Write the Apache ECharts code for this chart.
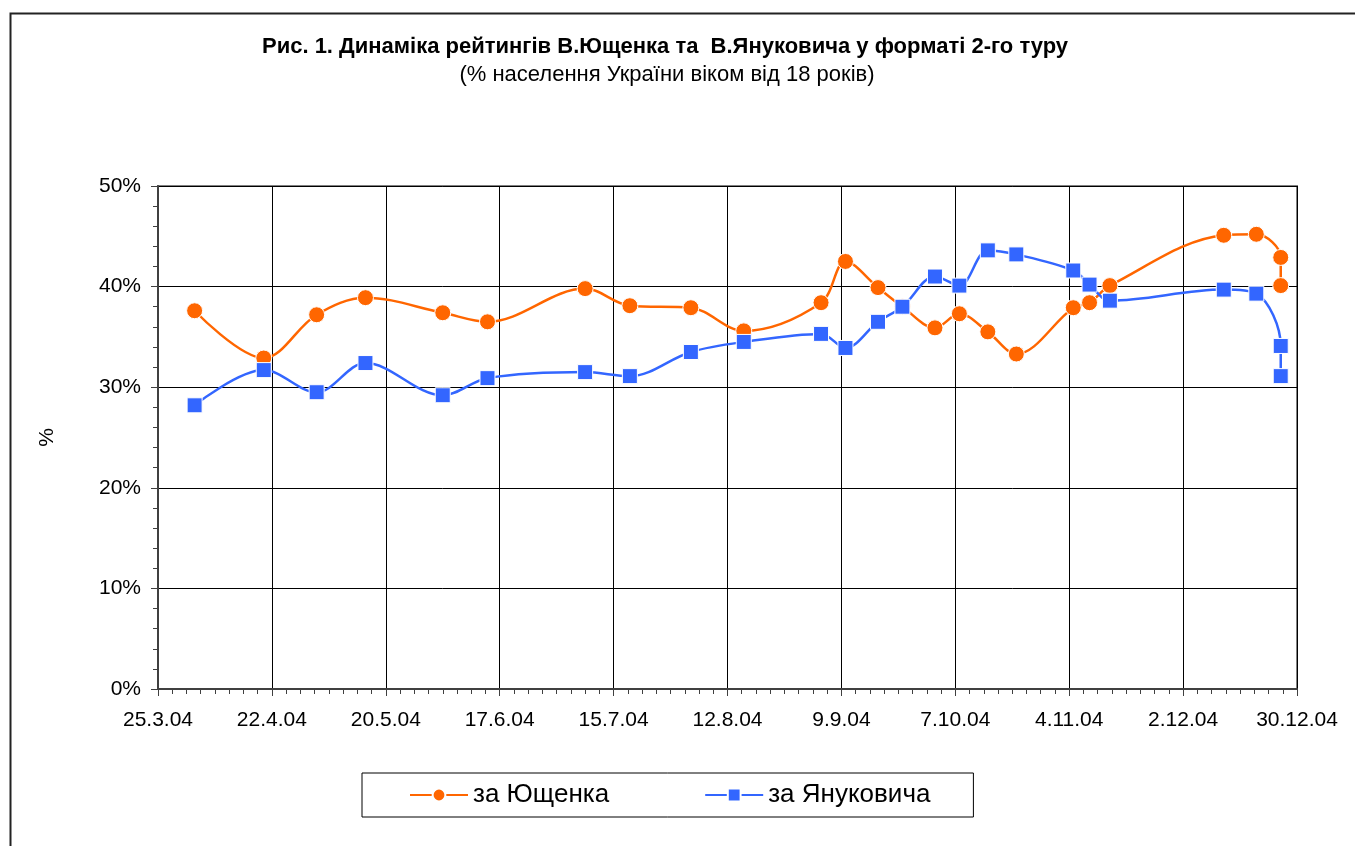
<!DOCTYPE html>
<html>
<head>
<meta charset="utf-8">
<script src="https://cdn.jsdelivr.net/npm/echarts@6/dist/echarts.min.js"></script>
<style>
html,body{margin:0;padding:0;background:#fff;}
#chart{width:1355px;height:846px;}
</style>
</head>
<body>
<div id="chart"></div>
<script>
// Survey dates (dd.mm.yy)
var dates = ['3.4.04','20.4.04','3.5.04','15.5.04','3.6.04','14.6.04','8.7.04','19.7.04','3.8.04','16.8.04',
  '4.9.04','10.9.04','18.9.04','24.9.04','2.10.04','8.10.04','15.10.04','22.10.04','5.11.04','9.11.04',
  '14.11.04','12.12.04','20.12.04','26.12.04','26.12.04'];
// за Ющенка (%)
var yushchenko = [37.6,32.9,37.2,38.9,37.4,36.5,39.8,38.1,37.9,35.6,
  38.4,42.5,39.9,38.0,35.9,37.3,35.5,33.3,37.9,38.4,
  40.1,45.1,45.2,42.9,40.1];
// за Януковича (%)
var yanukovych = [28.2,31.7,29.5,32.4,29.2,30.9,31.5,31.1,33.5,34.5,
  35.3,33.9,36.5,38.0,41.0,40.1,43.6,43.2,41.6,40.2,
  38.6,39.7,39.3,34.1,31.1];
var seriesNames = ['за Ющенка','за Януковича'];
var titleText = 'Рис. 1. Динаміка рейтингів В.Ющенка та  В.Януковича у форматі 2-го туру';
var subtitleText = '(% населення України віком від 18 років)';
var axisStart = '25.3.04';
var axisEnd = '30.12.04';
var tickDays = 28;

var DAY = 86400000;
function parseD(s){ var p = s.split('.'); return Date.UTC(2000 + (+p[2]), (+p[1]) - 1, +p[0]); }
var t0 = parseD(axisStart);
function dayOf(s){ return Math.round((parseD(s) - t0) / DAY); }
function fmt(v){ var d = new Date(t0 + v * DAY); return d.getUTCDate() + '.' + (d.getUTCMonth() + 1) + '.' + String(d.getUTCFullYear()).slice(2); }

var s1 = dates.map(function(d,i){ return [dayOf(d), yushchenko[i]]; });
var s2 = dates.map(function(d,i){ return [dayOf(d), yanukovych[i]]; });

var FONT = '"Liberation Sans", Arial, sans-serif';
var chart = echarts.init(document.getElementById('chart'), null, {renderer:'canvas'});
chart.setOption({
  animation: false,
  backgroundColor: '#fff',
  title: [
    {text: titleText, left: 660, top: 31, textAlign: 'center',
     textStyle: {fontFamily: FONT, fontSize: 22, fontWeight: 'bold', color: '#000'}},
    {text: subtitleText, left: 662, top: 59, textAlign: 'center',
     textStyle: {fontFamily: FONT, fontSize: 22, fontWeight: 'normal', color: '#000'}}
  ],
  graphic: [{
    type: 'rect', left: 8, top: 11, silent: true,
    shape: {x: 0, y: 0, width: 1400, height: 900},
    style: {fill: 'none', stroke: '#222', lineWidth: 2}
  }],
  legend: {
    left: 362, top: 773,
    padding: [9, 43, 9, 47],
    itemGap: 95,
    itemWidth: 58, itemHeight: 16,
    borderColor: '#000', borderWidth: 1,
    textStyle: {fontFamily: FONT, fontSize: 26, color: '#000'},
    data: seriesNames
  },
  grid: {left: 158, right: 58, top: 186, bottom: 157, show: true, borderColor: '#808080', borderWidth: 2, backgroundColor: '#fff'},
  xAxis: {
    type: 'value', min: 0, max: dayOf(axisEnd), interval: tickDays,
    axisLine: {show: true, onZero: false, lineStyle: {color: '#404040', width: 2}},
    axisTick: {show: true, length: 7, lineStyle: {color: '#404040', width: 1}},
    minorTick: {show: true, splitNumber: 8, length: 5, lineStyle: {color: '#404040', width: 1}},
    splitLine: {show: true, lineStyle: {color: '#000', width: 1}},
    axisLabel: {formatter: fmt, margin: 21, fontFamily: FONT, fontSize: 21, color: '#000', showMinLabel: true, showMaxLabel: true}
  },
  yAxis: {
    type: 'value', min: 0, max: 50, interval: 10,
    name: '%', nameLocation: 'middle', nameRotate: 90, nameGap: 100,
    nameTextStyle: {fontFamily: FONT, fontSize: 21, color: '#000'},
    axisLine: {show: true, lineStyle: {color: '#404040', width: 2}},
    axisTick: {show: true, length: 7, lineStyle: {color: '#404040', width: 1}},
    minorTick: {show: true, splitNumber: 5, length: 5, lineStyle: {color: '#404040', width: 1}},
    splitLine: {show: true, lineStyle: {color: '#000', width: 1}},
    axisLabel: {formatter: '{value}%', margin: 17, fontFamily: FONT, fontSize: 21, color: '#000'}
  },
  series: [
    {name: seriesNames[0], type: 'line', data: s1, smooth: 0.35,
     symbol: 'circle', symbolSize: 16,
     lineStyle: {color: '#FF6600', width: 2.5},
     itemStyle: {color: '#FF6600', borderColor: '#fff', borderWidth: 1}},
    {name: seriesNames[1], type: 'line', data: s2, smooth: 0.35,
     symbol: 'rect', symbolSize: 15,
     lineStyle: {color: '#3366FF', width: 2.5},
     itemStyle: {color: '#3366FF', borderColor: '#fff', borderWidth: 1}}
  ]
});
</script>
</body>
</html>
